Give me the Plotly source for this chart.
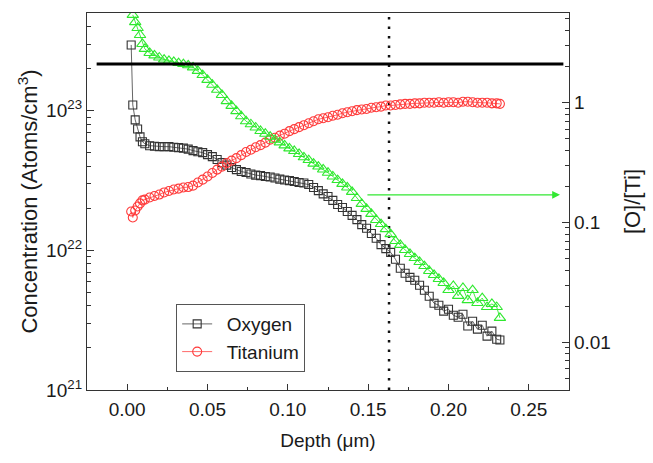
import math
import plotly.graph_objects as go

depth = [0.0025, 0.0035, 0.005, 0.0065, 0.008, 0.0095, 0.011, 0.014, 0.017, 0.020,
         0.023, 0.026, 0.029, 0.032, 0.035, 0.038, 0.041, 0.044, 0.047, 0.050,
         0.053, 0.056, 0.059, 0.062, 0.065, 0.068, 0.071, 0.074, 0.077, 0.080,
         0.083, 0.086, 0.089, 0.092, 0.095, 0.098, 0.101, 0.104, 0.107, 0.110,
         0.113, 0.116, 0.119, 0.122, 0.125, 0.128, 0.131, 0.134, 0.137, 0.140,
         0.143, 0.146, 0.149, 0.152, 0.155, 0.158, 0.161, 0.164, 0.167, 0.170,
         0.173, 0.176, 0.179, 0.182, 0.185, 0.188, 0.191, 0.194, 0.197, 0.200,
         0.203, 0.206, 0.209, 0.212, 0.215, 0.218, 0.221, 0.224, 0.227, 0.230, 0.232]

oxygen = [2.96e23, 1.10e23, 8.6e22, 7.4e22, 6.5e22, 6.0e22, 5.8e22, 5.62e22, 5.57e22, 5.53e22,
          5.53e22, 5.53e22, 5.48e22, 5.44e22, 5.40e22, 5.31e22, 5.18e22, 5.09e22, 5.01e22, 4.85e22,
          4.69e22, 4.47e22, 4.25e22, 4.08e22, 3.92e22, 3.79e22, 3.67e22, 3.61e22, 3.52e22, 3.46e22,
          3.43e22, 3.38e22, 3.35e22, 3.30e22, 3.24e22, 3.19e22, 3.16e22, 3.11e22, 3.06e22, 3.04e22,
          2.96e22, 2.82e22, 2.68e22, 2.54e22, 2.43e22, 2.28e22, 2.13e22, 2.03e22, 1.90e22, 1.78e22,
          1.66e22, 1.53e22, 1.44e22, 1.32e22, 1.22e22, 1.10e22, 1.03e22, 9.68e21, 8.63e21, 7.44e21,
          6.85e21, 6.41e21, 6.11e21, 5.62e21, 5.18e21, 4.69e21, 4.18e21, 4.05e21, 3.67e21, 3.79e21,
          3.43e21, 3.32e21, 3.49e21, 2.87e21, 3.11e21, 2.73e21, 2.91e21, 2.43e21, 2.64e21, 2.31e21, 2.28e21]

titanium = [1.90e22, 1.72e22, 1.93e22, 2.06e22, 2.17e22, 2.28e22, 2.31e22, 2.39e22, 2.45e22, 2.51e22,
            2.60e22, 2.66e22, 2.73e22, 2.77e22, 2.82e22, 2.84e22, 2.91e22, 3.06e22, 3.21e22, 3.38e22,
            3.58e22, 3.79e22, 3.98e22, 4.22e22, 4.39e22, 4.58e22, 4.81e22, 5.06e22, 5.26e22, 5.48e22,
            5.67e22, 5.91e22, 6.21e22, 6.41e22, 6.63e22, 6.85e22, 7.14e22, 7.38e22, 7.63e22, 7.88e22,
            8.14e22, 8.41e22, 8.69e22, 8.84e22, 8.99e22, 9.21e22, 9.36e22, 9.60e22, 9.76e22, 9.92e22,
            1.01e23, 1.02e23, 1.03e23, 1.05e23, 1.06e23, 1.07e23, 1.09e23, 1.09e23, 1.10e23, 1.11e23,
            1.12e23, 1.12e23, 1.13e23, 1.13e23, 1.14e23, 1.14e23, 1.14e23, 1.15e23, 1.14e23, 1.15e23,
            1.15e23, 1.14e23, 1.16e23, 1.16e23, 1.15e23, 1.14e23, 1.14e23, 1.14e23, 1.13e23, 1.13e23, 1.12e23]

ratio_o_ti = [None, 5.4, 4.7, 4.2, 3.67, 3.09, 2.81, 2.60, 2.48, 2.38,
              2.29, 2.23, 2.19, 2.14, 2.10, 2.05, 1.97, 1.84, 1.70, 1.55,
              1.41, 1.28, 1.16, 1.03, 0.94, 0.85, 0.77, 0.70, 0.66, 0.62,
              0.58, 0.55, 0.52, 0.49, 0.466, 0.44, 0.415, 0.395, 0.373, 0.35,
              0.332, 0.31, 0.293, 0.277, 0.26, 0.242, 0.226, 0.21, 0.196, 0.18,
              0.16, 0.143, 0.13, 0.118, 0.105, 0.097, 0.088, 0.080, 0.070, 0.065,
              0.059, 0.0546, 0.0505, 0.0468, 0.0433, 0.0394, 0.0365, 0.0338, 0.0313, 0.0273,
              0.0295, 0.0244, 0.0284, 0.0225, 0.0273, 0.0213, 0.0234, 0.0197, 0.0209, 0.0197, 0.0160]

x_ticks = [0.00, 0.05, 0.10, 0.15, 0.20, 0.25]
x_ticktext = ["0.00", "0.05", "0.10", "0.15", "0.20", "0.25"]
y_ticks = [1e21, 1e22, 1e23]
y_ticktext = ["10<sup>21</sup>", "10<sup>22</sup>", "10<sup>23</sup>"]
y2_ticks = [0.01, 0.1, 1]
y2_ticktext = ["0.01", "0.1", "1"]

stoich_ratio = 2.1          # horizontal reference line on [O]/[Ti]
interface_depth = 0.163     # vertical dotted line
arrow_ratio = 0.17
arrow_start, arrow_end = 0.1486, 0.2694
hline_x = [-0.019, 0.2715]

FONT = "Liberation Sans, Arial, sans-serif"
TXT = "#1a1a1a"
AX = "#333333"
FS = 19      # horizontal texts
FV = 22      # vertical axis titles

fig = go.Figure()

fig.add_trace(go.Scatter(
    x=[interface_depth, interface_depth], y=[1e21, 10 ** 23.7], mode="lines",
    line=dict(color="#111111", width=2.5, dash="2.5px,7px"), showlegend=False, hoverinfo="skip"))

fig.add_trace(go.Scatter(
    x=depth, y=oxygen, mode="lines+markers", name="\u2002Oxygen",
    line=dict(color="#666666", width=1),
    marker=dict(symbol="square-open", size=8, color="#333333", line=dict(width=1.1, color="#333333"))))

fig.add_trace(go.Scatter(
    x=depth, y=titanium, mode="lines+markers", name="\u2002Titanium",
    line=dict(color="#ff6a6a", width=1),
    marker=dict(symbol="circle-open", size=9, color="#ff3b3b", line=dict(width=1.1, color="#ff3b3b"))))

fig.add_trace(go.Scatter(
    x=depth, y=ratio_o_ti, mode="lines+markers", name="[O]/[Ti]", yaxis="y2",
    line=dict(color="#44ee44", width=1),
    marker=dict(symbol="triangle-up-open", size=10, color="#2fe82f", line=dict(width=1.1, color="#2fe82f")),
    showlegend=False))

fig.add_trace(go.Scatter(
    x=hline_x, y=[stoich_ratio, stoich_ratio], mode="lines", yaxis="y2",
    line=dict(color="#000000", width=3), showlegend=False, hoverinfo="skip"))

fig.add_annotation(
    x=arrow_end, y=math.log10(arrow_ratio), xref="x", yref="y2",
    ax=arrow_start, ay=math.log10(arrow_ratio), axref="x", ayref="y2",
    text="", showarrow=True, arrowhead=2, arrowsize=1.3, arrowwidth=1.2, arrowcolor="#33e833")

def minor_vals(lo_exp, hi_exp):
    vals = []
    for e in range(lo_exp, hi_exp + 1):
        for m in range(2, 10):
            vals.append(float(m) * (10.0 ** e))
    return vals

fig.update_layout(
    width=653, height=463,
    margin=dict(l=87, r=84, t=13, b=73),
    paper_bgcolor="white", plot_bgcolor="white",
    font=dict(family=FONT, size=FS, color=TXT),
    showlegend=True,
    legend=dict(x=0.185, y=0.228, xanchor="left", yanchor="top",
                bgcolor="white", bordercolor="#555555", borderwidth=1,
                font=dict(size=FS, color=TXT), tracegroupgap=0, itemwidth=30),
    xaxis=dict(range=[-0.025, 0.275], tickmode="array", tickvals=x_ticks, ticktext=x_ticktext,
               ticks="inside", ticklen=6, tickwidth=1, tickcolor=AX, ticklabelstandoff=2,
               showline=True, linecolor=AX, linewidth=1.3, mirror=True, showgrid=False, zeroline=False,
               minor=dict(tickmode="array", tickvals=[0.025, 0.075, 0.125, 0.175, 0.225],
                          ticks="inside", ticklen=3, tickcolor=AX),
               title=dict(text="Depth (\u03bcm)", standoff=14, font=dict(size=FS)), tickfont=dict(size=FS)),
    yaxis=dict(type="log", range=[21, 23.7], tickmode="array", tickvals=y_ticks, ticktext=y_ticktext,
               ticks="inside", ticklen=7, tickwidth=1, tickcolor=AX,
               showline=True, linecolor=AX, linewidth=1.3, showgrid=False, zeroline=False,
               minor=dict(tickmode="array", tickvals=minor_vals(21, 23),
                          ticks="inside", ticklen=4, tickcolor=AX),
               title=dict(text="Concentration (Atoms/cm<sup>3</sup>)", standoff=2, font=dict(size=FV)),
               tickfont=dict(size=FS)),
    yaxis2=dict(type="log", overlaying="y", side="right", range=[math.log10(0.004), math.log10(5.6)],
                tickmode="array", tickvals=y2_ticks, ticktext=y2_ticktext,
                ticks="inside", ticklen=7, tickwidth=1, tickcolor=AX,
                showline=True, linecolor=AX, linewidth=1.3, showgrid=False, zeroline=False,
                minor=dict(tickmode="array", tickvals=minor_vals(-3, 0),
                           ticks="inside", ticklen=4, tickcolor=AX),
                title=dict(text="[O]/[Ti]", standoff=14, font=dict(size=FV)), tickfont=dict(size=FS)),
)

fig.write_html("out.html")
